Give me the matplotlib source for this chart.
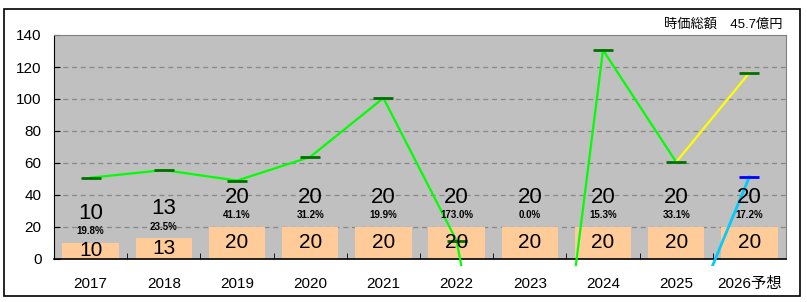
import numpy as np
import matplotlib
matplotlib.use('Agg')
import matplotlib.pyplot as plt
from matplotlib.patches import Rectangle

plt.rcParams['font.family'] = ['Liberation Sans', 'Noto Sans CJK JP', 'DejaVu Sans']

# --- data ---
years = ['2017', '2018', '2019', '2020', '2021', '2022', '2023', '2024', '2025', '2026予想']
bar_vals = [10, 13, 20, 20, 20, 20, 20, 20, 20, 20]
pct_labels = ['19.8%', '23.5%', '41.1%', '31.2%', '19.9%', '173.0%', '0.0%', '15.3%', '33.1%', '17.2%']
line_vals = [50.8, 55.6, 49.0, 63.8, 100.6, 11.4, -232, 130.6, 60.6, 116.4]
forecast_vals = [-59, 51.4]   # 2025 -> 2026 (blue series)
title_text = '時価総額　45.7億円'

fig = plt.figure(figsize=(8.07, 3.02), dpi=100)
fig.patch.set_facecolor('white')

# outer frame
fig.patches.append(Rectangle((4 / 807, 6 / 302), 796 / 807, 287 / 302,
                             transform=fig.transFigure, fill=False,
                             edgecolor='black', linewidth=1.2))

ax = fig.add_axes([54 / 807, 43 / 302, 732 / 807, 224 / 302])
ax.set_facecolor('#c0c0c0')
x = np.arange(len(years))

# bars
ax.bar(x, bar_vals, width=0.77, color='#ffcc99', zorder=2)

# grid
for g in range(20, 140, 20):
    ax.axhline(g, color='#888888', linestyle=(0, (4, 3)), linewidth=0.9, zorder=1)

ax.set_xlim(-0.5, len(years) - 0.5)
ax.set_ylim(0, 140)

# lines clipped slightly below the axes (as in the reference)
clip = Rectangle((0, -7 / 224), 1, 1 + 7 / 224, transform=ax.transAxes)
green = ax.plot(x[:9], line_vals[:9], color='#00ff00', linewidth=1.6, zorder=4)[0]
yellow = ax.plot(x[8:], line_vals[8:], color='#ffff00', linewidth=1.6, zorder=4)[0]
blue = ax.plot(x[8:], forecast_vals, color='#00ccff', linewidth=2.0, zorder=4)[0]
for ln in (green, yellow, blue):
    ln.set_clip_path(clip)

# dash markers
ax.plot(x, line_vals, linestyle='none', marker='_', markersize=14,
        markeredgewidth=2, color='#007000', zorder=5)
ax.plot(x[9], forecast_vals[1], linestyle='none', marker='_', markersize=14,
        markeredgewidth=2, color='#0000ff', zorder=5)

# labels
for i, v in enumerate(bar_vals):
    ax.text(i, v / 2, str(v), ha='center', va='center', fontsize=15,
            fontweight='light', zorder=6, clip_on=True)
    ax.text(i, v + 18.5, str(v), ha='center', va='center', fontsize=16, zorder=6)
    ax.text(i, v + 7.3, pct_labels[i], ha='center', va='center', fontsize=7,
            fontweight='bold', zorder=6)

# axes styling
ax.set_yticks(range(0, 141, 20))
ax.tick_params(axis='y', direction='in', length=4, labelsize=11, pad=9)
ax.set_xticks(x)
ax.set_xticklabels(years, fontsize=11)
ax.tick_params(axis='x', length=0, pad=13)
ax.set_xticks(x[:-1] + 0.5, minor=True)
ax.tick_params(axis='x', which='minor', direction='in', length=4)
ax.spines['top'].set_color('#808080')
ax.spines['right'].set_color('#808080')
ax.spines['left'].set_color('black')
ax.spines['bottom'].set_color('black')
ax.spines['bottom'].set_linewidth(1.2)

fig.text(782 / 807, 1 - 25 / 302, title_text, ha='right', va='center', fontsize=9.5)

fig.savefig('out.png', dpi=100)
